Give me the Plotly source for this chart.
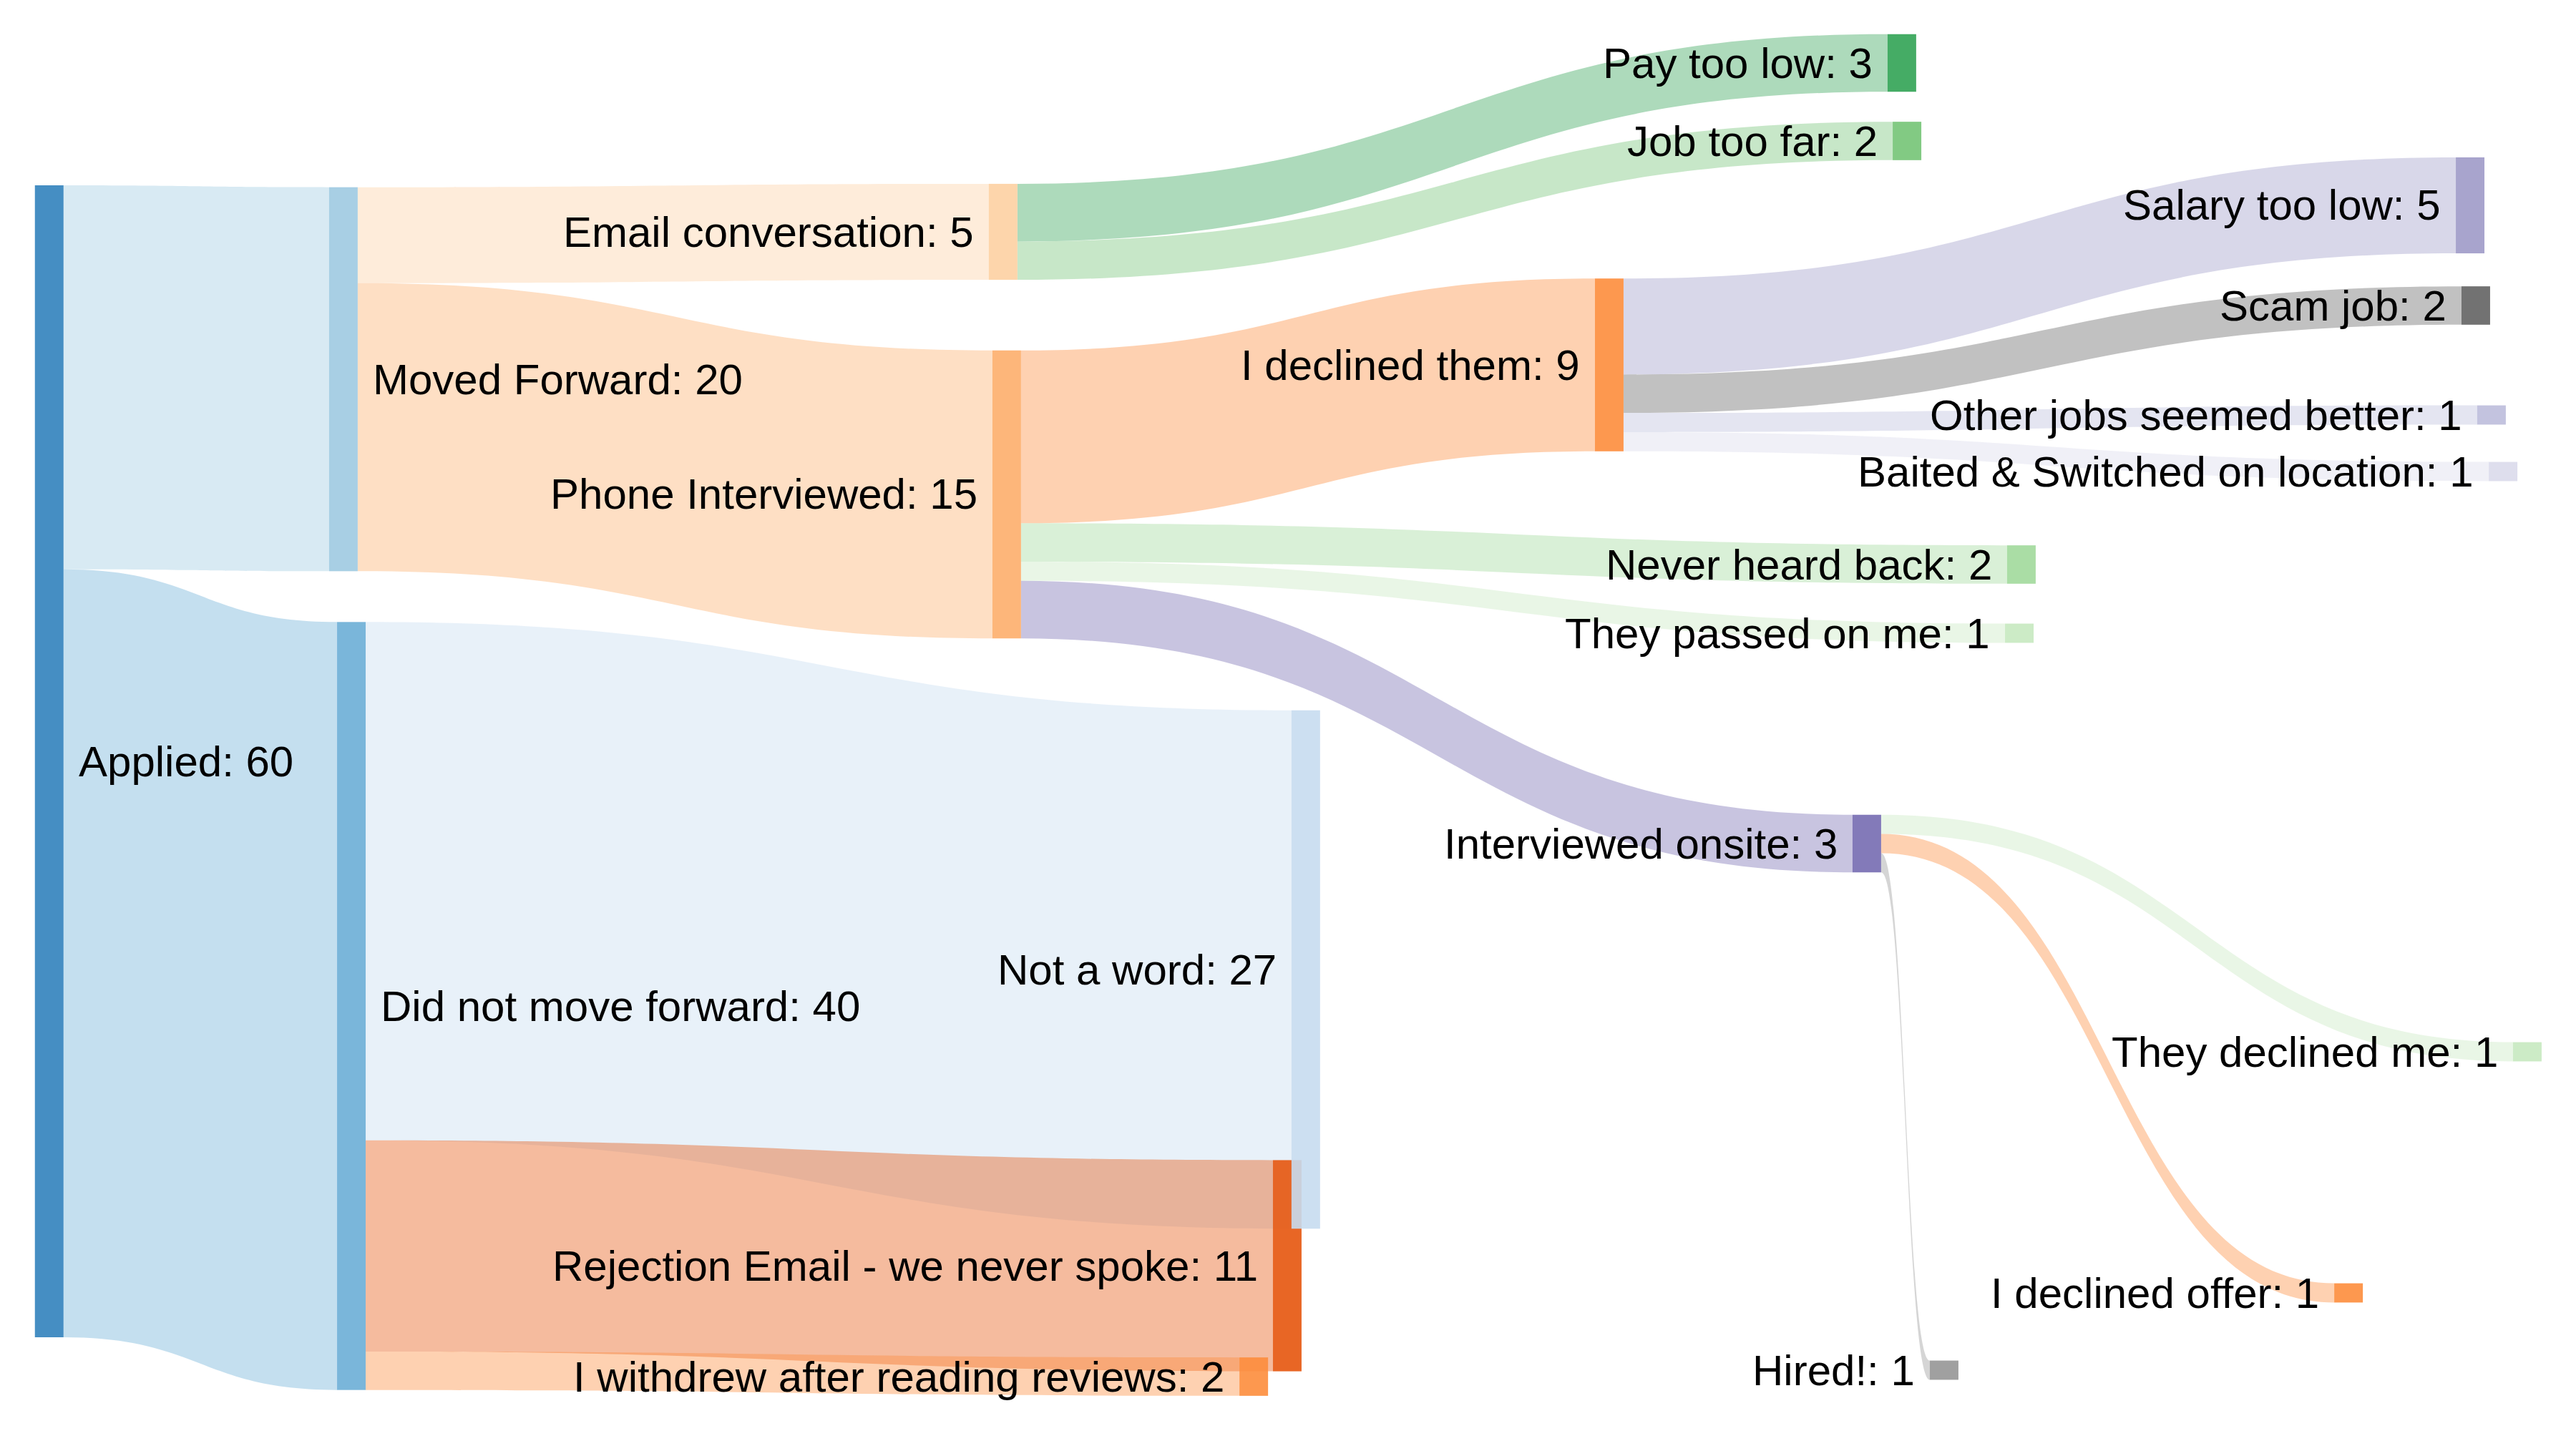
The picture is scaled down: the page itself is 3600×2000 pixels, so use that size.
import plotly.graph_objects as go

# ---- data ----
node_names = [
    "Applied", "Moved Forward", "Did not move forward",
    "Email conversation", "Phone Interviewed",
    "Rejection Email - we never spoke", "I withdrew after reading reviews", "Not a word",
    "Pay too low", "Job too far", "I declined them", "Never heard back",
    "They passed on me", "Interviewed onsite",
    "Salary too low", "Scam job", "Other jobs seemed better",
    "Baited & Switched on location", "They declined me", "I declined offer", "Hired!",
]
node_colors = [
    "#3182bd", "#9ecae1", "#6baed6",
    "#fdd0a2", "#fdae6b",
    "#e6550d", "#fd8d3c", "#c6dbef",
    "#31a354", "#74c476", "#fd8d3c", "#a1d99b",
    "#c7e9c0", "#756bb1",
    "#9e9ac8", "#636363", "#bcbddc",
    "#dadaeb", "#c7e9c0", "#fd8d3c", "#969696",
]
# node centre positions (fraction of the plot area, y measured from the top)
node_x = [0.0191, 0.1333, 0.1364,
          0.3894, 0.3908,
          0.4997, 0.4867, 0.5069,
          0.7383, 0.7403, 0.6247, 0.7847,
          0.7839, 0.7247,
          0.9589, 0.9611, 0.9672,
          0.9717, 0.9811, 0.9117, 0.7547]
node_y = [0.532, 0.265, 0.703,
          0.162, 0.3455,
          0.8845, 0.962, 0.6775,
          0.044, 0.0985, 0.255, 0.3945,
          0.4425, 0.5895,
          0.1435, 0.2135, 0.29,
          0.3295, 0.735, 0.9035, 0.9575]

link_source = [0, 0, 1, 1, 2, 2, 2, 3, 3, 4, 4, 4, 4, 10, 10, 10, 10, 13, 13, 13]
link_target = [1, 2, 3, 4, 7, 5, 6, 8, 9, 10, 11, 12, 13, 14, 15, 16, 17, 18, 19, 20]
link_value = [20, 40, 5, 15, 27, 11, 2, 3, 2, 9, 2, 1, 3, 5, 2, 1, 1, 1, 1, 1]

W, H = 3600, 2000
THICK = 40
GAP = 19
FONT = dict(family="Arial, Liberation Sans, sans-serif", size=60, color="black")


def rgba(hex_color, alpha):
    h = hex_color.lstrip("#")
    r, g, b = int(h[0:2], 16), int(h[2:4], 16), int(h[4:6], 16)
    return f"rgba({r},{g},{b},{alpha})"


# node totals (max of in/out flow)
inflow = [0] * len(node_names)
outflow = [0] * len(node_names)
for s, t, v in zip(link_source, link_target, link_value):
    outflow[s] += v
    inflow[t] += v
labels = [f"{n}: {max(i, o)}" for n, i, o in zip(node_names, inflow, outflow)]

fig = go.Figure(go.Sankey(
    arrangement="fixed",
    node=dict(
        label=[""] * len(labels),
        customdata=labels,
        hovertemplate="%{customdata}<extra></extra>",
        color=[rgba(c, 0.9) for c in node_colors],
        x=node_x,
        y=node_y,
        pad=30,
        thickness=THICK,
        line=dict(width=0, color="rgba(0,0,0,0)"),
    ),
    link=dict(
        source=link_source,
        target=link_target,
        value=link_value,
        color=[rgba(node_colors[t], 0.4) for t in link_target],
    ),
))

# node labels: right of the node in the left part, left of the node elsewhere
for lab, x, y in zip(labels, node_x, node_y):
    left_side = x > 0.25
    fig.add_annotation(
        x=x, y=1 - y, xref="paper", yref="paper",
        text=lab, showarrow=False,
        xanchor="right" if left_side else "left",
        yanchor="middle",
        xshift=-(THICK / 2 + GAP) if left_side else (THICK / 2 + GAP),
        font=FONT,
    )

fig.update_layout(
    width=W, height=H,
    margin=dict(l=0, r=0, t=0, b=0),
    paper_bgcolor="white",
    plot_bgcolor="white",
)

fig.write_html("out.html")
